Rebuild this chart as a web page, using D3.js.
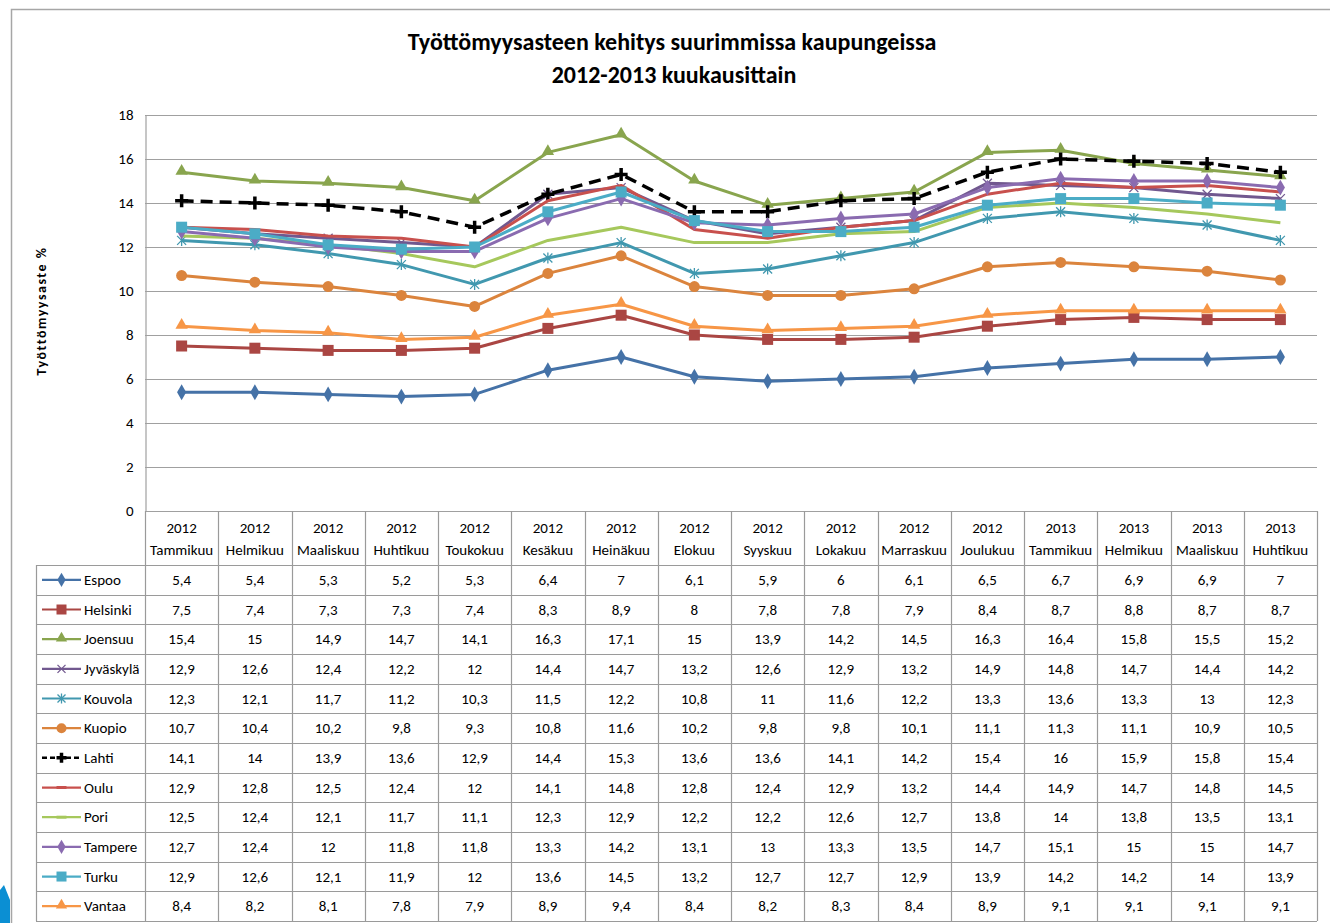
<!DOCTYPE html>
<html>
<head>
<meta charset="utf-8">
<script src="https://d3js.org/d3.v7.min.js"></script>
<style>
  body { margin: 0; background: #fff; }
  svg { font-family: Carlito, Lato, "Open Sans", sans-serif; }
</style>
</head>
<body>
<div id="chart"></div>
<script>
// data
var years = ["2012","2012","2012","2012","2012","2012","2012","2012","2012","2012","2012","2012","2013","2013","2013","2013"];
var months = ["Tammikuu","Helmikuu","Maaliskuu","Huhtikuu","Toukokuu","Kesäkuu","Heinäkuu","Elokuu","Syyskuu","Lokakuu","Marraskuu","Joulukuu","Tammikuu","Helmikuu","Maaliskuu","Huhtikuu"];
var cities = ["Espoo","Helsinki","Joensuu","Jyväskylä","Kouvola","Kuopio","Lahti","Oulu","Pori","Tampere","Turku","Vantaa"];

var espoo    = [5.4,5.4,5.3,5.2,5.3,6.4,7,6.1,5.9,6,6.1,6.5,6.7,6.9,6.9,7];
var helsinki = [7.5,7.4,7.3,7.3,7.4,8.3,8.9,8,7.8,7.8,7.9,8.4,8.7,8.8,8.7,8.7];
var joensuu  = [15.4,15,14.9,14.7,14.1,16.3,17.1,15,13.9,14.2,14.5,16.3,16.4,15.8,15.5,15.2];
var jyvaskyla= [12.9,12.6,12.4,12.2,12,14.4,14.7,13.2,12.6,12.9,13.2,14.9,14.8,14.7,14.4,14.2];
var kouvola  = [12.3,12.1,11.7,11.2,10.3,11.5,12.2,10.8,11,11.6,12.2,13.3,13.6,13.3,13,12.3];
var kuopio   = [10.7,10.4,10.2,9.8,9.3,10.8,11.6,10.2,9.8,9.8,10.1,11.1,11.3,11.1,10.9,10.5];
var lahti    = [14.1,14,13.9,13.6,12.9,14.4,15.3,13.6,13.6,14.1,14.2,15.4,16,15.9,15.8,15.4];
var oulu     = [12.9,12.8,12.5,12.4,12,14.1,14.8,12.8,12.4,12.9,13.2,14.4,14.9,14.7,14.8,14.5];
var pori     = [12.5,12.4,12.1,11.7,11.1,12.3,12.9,12.2,12.2,12.6,12.7,13.8,14,13.8,13.5,13.1];
var tampere  = [12.7,12.4,12,11.8,11.8,13.3,14.2,13.1,13,13.3,13.5,14.7,15.1,15,15,14.7];
var turku    = [12.9,12.6,12.1,11.9,12,13.6,14.5,13.2,12.7,12.7,12.9,13.9,14.2,14.2,14,13.9];
var vantaa   = [8.4,8.2,8.1,7.8,7.9,8.9,9.4,8.4,8.2,8.3,8.4,8.9,9.1,9.1,9.1,9.1];

var yTicks = [0,2,4,6,8,10,12,14,16,18];
var title1 = "Työttömyysasteen kehitys suurimmissa kaupungeissa";
var title2 = "2012-2013 kuukausittain";
var yTitle = "Työttömyysaste %";

var values = [espoo,helsinki,joensuu,jyvaskyla,kouvola,kuopio,lahti,oulu,pori,tampere,turku,vantaa];
var colors = ["#4572A7","#AA4643","#89A54E","#71588F","#4198AF","#DB843D","#000000","#C8504D","#A6C85C","#8A6BB0","#4BACC6","#F79646"];
var markers = ["diamond","square","triangle","x","asterisk","circle","plus","dash","dash","diamond","square","triangle"];

var W = 1330, H = 923;
var plotLeft = 145, plotRight = 1317, plotTop = 115, plotBottom = 511;
var headerH = 54, rowH = 29.67, legendLeft = 36;
var fontSize = 15;

var svg = d3.select('#chart').append('svg')
  .attr('width', W).attr('height', H);

// outer frame
svg.append('path').attr('d', 'M11.5,923 L11.5,9.5 L1330,9.5')
  .attr('fill','none').attr('stroke','#a6a6a6').attr('stroke-width',1.5);
svg.append('path').attr('d','M0,923 L0,890 L4,885 L10,900 L10,923 Z').attr('fill','#0b8fd3');

var idx = d3.range(months.length);
var x = d3.scaleBand().domain(idx).range([plotLeft, plotRight]).padding(0);
var y = d3.scaleLinear().domain([0, 18]).range([plotBottom, plotTop]);
var cx = function(i) { return x(i) + x.bandwidth() / 2; };

// title
svg.append('text').attr('x', 672).attr('y', 50).attr('text-anchor','middle')
  .attr('font-size', 24).attr('font-weight','bold').text(title1);
svg.append('text').attr('x', 674).attr('y', 83).attr('text-anchor','middle')
  .attr('font-size', 24).attr('font-weight','bold').text(title2);

// y axis title
svg.append('text').attr('transform','translate(46,311) rotate(-90)')
  .attr('text-anchor','middle').attr('font-size',14).attr('letter-spacing',1.5)
  .attr('font-weight','bold').text(yTitle);

// grid
svg.append('g').selectAll('line').data(yTicks).join('line')
  .attr('x1', plotLeft).attr('x2', plotRight)
  .attr('y1', d => Math.round(y(d)) + 0.5).attr('y2', d => Math.round(y(d)) + 0.5)
  .attr('stroke', '#a0a0a0').attr('stroke-width', 1.2);

var yAxis = svg.append('g').attr('transform','translate(' + (plotLeft + 0.5) + ',0)')
  .call(d3.axisLeft(y).tickValues(yTicks).tickSize(0).tickPadding(12));
yAxis.select('.domain').attr('stroke','#a0a0a0').attr('stroke-width',1.2);
yAxis.selectAll('text').attr('font-size',fontSize).attr('font-family','Carlito, Lato, sans-serif').attr('fill','#000');

// markers
function drawMarker(g, type, color, px, py, s) {
  if (type === 'diamond') {
    g.append('path').attr('d', d3.symbol(d3.symbolDiamond, s * s * 0.6)())
      .attr('transform','translate(' + px + ',' + py + ')').attr('fill', color);
  } else if (type === 'square') {
    g.append('rect').attr('x', px - s/2).attr('y', py - s/2).attr('width', s).attr('height', s).attr('fill', color);
  } else if (type === 'triangle') {
    g.append('path').attr('d', d3.symbol(d3.symbolTriangle, s * s * 0.55)())
      .attr('transform','translate(' + px + ',' + (py - 1) + ')').attr('fill', color);
  } else if (type === 'circle') {
    g.append('circle').attr('cx', px).attr('cy', py).attr('r', s/2).attr('fill', color);
  } else if (type === 'x') {
    var h = s / 2 - 1;
    g.append('path').attr('d','M'+(px-h)+','+(py-h)+'L'+(px+h)+','+(py+h)+'M'+(px-h)+','+(py+h)+'L'+(px+h)+','+(py-h))
      .attr('stroke', color).attr('stroke-width', 1.3);
  } else if (type === 'asterisk') {
    var h2 = s / 2 - 1;
    g.append('path').attr('d','M'+(px-h2)+','+(py-h2)+'L'+(px+h2)+','+(py+h2)+'M'+(px-h2)+','+(py+h2)+'L'+(px+h2)+','+(py-h2)+'M'+px+','+(py-h2-1)+'L'+px+','+(py+h2+1))
      .attr('stroke', color).attr('stroke-width', 1.3);
  } else if (type === 'plus') {
    var h3 = s / 2 + 1;
    g.append('path').attr('d','M'+(px-h3)+','+py+'L'+(px+h3)+','+py+'M'+px+','+(py-h3)+'L'+px+','+(py+h3))
      .attr('stroke', color).attr('stroke-width', 3.5);
  } else if (type === 'dash') {
    g.append('line').attr('x1', px - 5).attr('x2', px + 5).attr('y1', py).attr('y2', py)
      .attr('stroke', color).attr('stroke-width', 3);
  }
}

var line = d3.line().x((d, i) => cx(i)).y(d => y(d));

var series = svg.append('g');
values.forEach(function(v, k) {
  var g = series.append('g');
  g.append('path').attr('d', line(v)).attr('fill','none')
    .attr('stroke', colors[k]).attr('stroke-width', k === 6 ? 3.5 : 3)
    .attr('stroke-dasharray', k === 6 ? '12,7' : null)
    .attr('stroke-linejoin','round');
  if (markers[k] !== 'dash') {
    v.forEach(function(d, i) { drawMarker(g, markers[k], colors[k], cx(i), y(d), 11); });
  }
});

// data table
var grid = '#9a9a9a';
var tbl = svg.append('g');
var tableBottom = plotBottom + headerH + rowH * cities.length;

// header cells
idx.forEach(function(i) {
  tbl.append('text').attr('x', cx(i)).attr('y', plotBottom + 22).attr('text-anchor','middle')
    .attr('font-size', fontSize).text(years[i]);
  tbl.append('text').attr('x', cx(i)).attr('y', plotBottom + 44).attr('text-anchor','middle')
    .attr('font-size', fontSize).text(months[i]);
});

// vertical lines
d3.range(months.length + 1).forEach(function(i) {
  var xx = (i < months.length ? x(i) : plotRight);
  tbl.append('line').attr('x1', Math.round(xx) + 0.5).attr('x2', Math.round(xx) + 0.5)
    .attr('y1', plotBottom).attr('y2', tableBottom).attr('stroke', grid).attr('stroke-width', 1.2);
});
tbl.append('line').attr('x1', legendLeft + 0.5).attr('x2', legendLeft + 0.5)
  .attr('y1', plotBottom + headerH).attr('y2', tableBottom).attr('stroke', grid).attr('stroke-width', 1.2);

// horizontal lines
d3.range(cities.length + 1).forEach(function(r) {
  var yy = Math.round(plotBottom + headerH + r * rowH) + 0.5;
  tbl.append('line').attr('x1', legendLeft).attr('x2', plotRight).attr('y1', yy).attr('y2', yy)
    .attr('stroke', grid).attr('stroke-width', 1.2);
});

// rows
cities.forEach(function(c, r) {
  var ym = plotBottom + headerH + r * rowH + rowH / 2;
  var g = tbl.append('g');
  g.append('line').attr('x1', 42).attr('x2', 81).attr('y1', ym).attr('y2', ym)
    .attr('stroke', colors[r]).attr('stroke-width', r === 6 ? 2.5 : 2.2)
    .attr('stroke-dasharray', r === 6 ? '5,3' : null);
  drawMarker(g, markers[r], colors[r], 61.5, ym, r === 6 ? 8 : 10);
  g.append('text').attr('x', 84).attr('y', ym + 5).attr('font-size', fontSize).text(c);
  values[r].forEach(function(d, i) {
    g.append('text').attr('x', cx(i)).attr('y', ym + 5).attr('text-anchor','middle')
      .attr('font-size', fontSize).text(String(d).replace('.', ','));
  });
});
</script>
</body>
</html>
